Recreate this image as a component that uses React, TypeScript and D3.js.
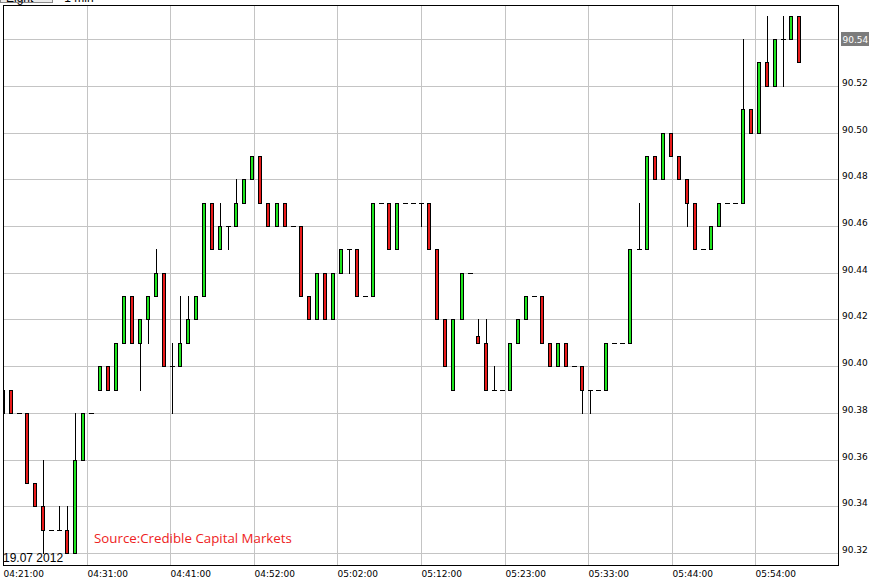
import React from 'react';
import * as d3 from 'd3';

const opens = [
  90.38, 90.39, 90.38, 90.38, 90.35, 90.34, 90.33, 90.33, 90.33, 90.32,
  90.36, 90.38, 90.39, 90.40, 90.39, 90.41, 90.43, 90.41, 90.42, 90.43,
  90.44, 90.40, 90.40, 90.41, 90.42, 90.43, 90.47, 90.45, 90.46, 90.46,
  90.47, 90.48, 90.49, 90.47, 90.46, 90.47, 90.46, 90.46, 90.43, 90.42,
  90.44, 90.42, 90.44, 90.45, 90.45, 90.43, 90.43, 90.47, 90.47, 90.45,
  90.47, 90.47, 90.47, 90.47, 90.45, 90.42, 90.39, 90.42, 90.44, 90.413,
  90.41, 90.39, 90.39, 90.39, 90.41, 90.42, 90.43, 90.43, 90.41, 90.40,
  90.41, 90.40, 90.40, 90.39, 90.39, 90.39, 90.41, 90.41, 90.41, 90.45,
  90.45, 90.49, 90.48, 90.50, 90.49, 90.48, 90.47, 90.45, 90.45, 90.46,
  90.47, 90.47, 90.47, 90.51, 90.50, 90.53, 90.52, 90.54, 90.54, 90.55,
];
const highs = [
  90.39, 90.39, 90.38, 90.38, 90.35, 90.36, 90.33, 90.34, 90.34, 90.38,
  90.38, 90.38, 90.40, 90.40, 90.41, 90.43, 90.43, 90.42, 90.43, 90.45,
  90.44, 90.41, 90.43, 90.43, 90.43, 90.47, 90.47, 90.47, 90.46, 90.48,
  90.48, 90.49, 90.49, 90.47, 90.47, 90.47, 90.46, 90.46, 90.43, 90.44,
  90.44, 90.44, 90.45, 90.45, 90.45, 90.43, 90.47, 90.47, 90.47, 90.47,
  90.47, 90.47, 90.47, 90.47, 90.45, 90.42, 90.42, 90.44, 90.44, 90.42,
  90.42, 90.40, 90.39, 90.41, 90.42, 90.43, 90.43, 90.43, 90.41, 90.41,
  90.41, 90.40, 90.40, 90.39, 90.39, 90.41, 90.41, 90.41, 90.45, 90.47,
  90.49, 90.49, 90.50, 90.50, 90.49, 90.48, 90.47, 90.45, 90.46, 90.47,
  90.47, 90.47, 90.54, 90.51, 90.53, 90.55, 90.54, 90.55, 90.55, 90.55,
];
const lows = [
  90.38, 90.38, 90.38, 90.35, 90.34, 90.32, 90.33, 90.33, 90.32, 90.32,
  90.36, 90.38, 90.39, 90.39, 90.39, 90.41, 90.41, 90.39, 90.41, 90.43,
  90.40, 90.38, 90.40, 90.41, 90.42, 90.43, 90.45, 90.45, 90.45, 90.46,
  90.47, 90.48, 90.47, 90.46, 90.46, 90.46, 90.46, 90.43, 90.42, 90.42,
  90.42, 90.42, 90.44, 90.44, 90.43, 90.43, 90.43, 90.47, 90.45, 90.45,
  90.47, 90.47, 90.46, 90.45, 90.42, 90.40, 90.39, 90.42, 90.44, 90.41,
  90.39, 90.39, 90.39, 90.39, 90.41, 90.42, 90.43, 90.41, 90.40, 90.40,
  90.40, 90.40, 90.38, 90.38, 90.39, 90.39, 90.41, 90.41, 90.41, 90.45,
  90.45, 90.48, 90.48, 90.49, 90.48, 90.46, 90.45, 90.45, 90.45, 90.46,
  90.47, 90.47, 90.47, 90.50, 90.50, 90.52, 90.52, 90.52, 90.54, 90.53,
];
const closes = [
  90.39, 90.38, 90.38, 90.35, 90.34, 90.33, 90.33, 90.33, 90.32, 90.36,
  90.38, 90.38, 90.40, 90.39, 90.41, 90.43, 90.41, 90.42, 90.43, 90.44,
  90.40, 90.40, 90.41, 90.42, 90.43, 90.47, 90.45, 90.46, 90.46, 90.47,
  90.48, 90.49, 90.47, 90.46, 90.47, 90.46, 90.46, 90.43, 90.42, 90.44,
  90.42, 90.44, 90.45, 90.45, 90.43, 90.43, 90.47, 90.47, 90.45, 90.47,
  90.47, 90.47, 90.47, 90.45, 90.42, 90.40, 90.42, 90.44, 90.44, 90.41,
  90.39, 90.39, 90.39, 90.41, 90.42, 90.43, 90.43, 90.41, 90.40, 90.41,
  90.40, 90.40, 90.39, 90.39, 90.39, 90.41, 90.41, 90.41, 90.45, 90.45,
  90.49, 90.48, 90.50, 90.49, 90.48, 90.47, 90.45, 90.45, 90.46, 90.47,
  90.47, 90.47, 90.51, 90.50, 90.53, 90.52, 90.54, 90.54, 90.55, 90.53,
];

const xTickLabels = [
  '04:21:00', '04:31:00', '04:41:00', '04:52:00', '05:02:00',
  '05:12:00', '05:23:00', '05:33:00', '05:44:00', '05:54:00',
];
const yTicks = [90.32, 90.34, 90.36, 90.38, 90.40, 90.42, 90.44, 90.46, 90.48, 90.50, 90.52, 90.54];
const currentPrice = 90.54;
const dateLabel = '19.07 2012';
const sourceLabel = 'Source:Credible Capital Markets';
const periodButton = 'Eight';
const periodLabel = '- 1 min';

const W = 880;
const H = 581;
const plotLeft = 3;
const plotRight = 838;
const plotTop = 5;
const plotBottom = 565;

const GREEN = '#1fe41f';
const RED = '#e81b1b';
const GRID = '#c4c4c4';
const AXIS_FONT = '"DejaVu Sans", sans-serif';

export default function App() {
  const x = d3.scaleLinear().domain([0, 103.8]).range([plotLeft, plotRight]);
  const y = d3.scaleLinear().domain([90.3149, 90.5546]).range([plotBottom, plotTop]);
  const py = (v: number) => Math.round(y(v));

  const gridStep = (plotRight - plotLeft + 1) / xTickLabels.length;
  const vGrid = xTickLabels.map((_, k) => Math.round(plotLeft + k * gridStep));

  const candles = opens.map((o, i) => ({ o, h: highs[i], l: lows[i], c: closes[i], i }));

  return (
    <svg
      width={W}
      height={H}
      style={{ position: 'absolute', left: 0, top: 0, background: '#fff' }}
      shapeRendering="crispEdges"
    >
      <defs>
        <clipPath id="plotClip">
          <rect x={plotLeft + 1} y={plotTop + 1} width={plotRight - plotLeft - 1} height={plotBottom - plotTop - 1} />
        </clipPath>
      </defs>
      <rect x={0} y={0} width={W} height={H} fill="#fff" />

      {/* header (cut off at top) */}
      <g>
        <rect x={0.5} y={-14.5} width={52} height={17} fill="#ececec" stroke="#8a8a8a" />
        <text x={6} y={2} fontFamily='"Liberation Sans", Arial, sans-serif' fontSize={12} fill="#000">{periodButton}</text>
        <text x={57} y={2} fontFamily='"Liberation Sans", Arial, sans-serif' fontSize={12} fill="#000">{periodLabel}</text>
      </g>

      {/* grid */}
      <g stroke={GRID} strokeWidth={1}>
        {yTicks.map((t) => (
          <line key={'h' + t} x1={plotLeft} x2={plotRight} y1={py(t) + 0.5} y2={py(t) + 0.5} />
        ))}
        {vGrid.slice(1).map((gx, k) => (
          <line key={'v' + k} x1={gx + 0.5} x2={gx + 0.5} y1={plotTop} y2={plotBottom} />
        ))}
      </g>

      {/* candles */}
      <g clipPath="url(#plotClip)">
        {candles.map((d) => {
          const L = Math.round(x(d.i) - 2);
          const top = py(Math.max(d.o, d.c));
          const bot = py(Math.min(d.o, d.c));
          const hi = py(d.h);
          const lo = py(d.l);
          const doji = top === bot;
          const up = d.c > d.o;
          return (
            <g key={d.i}>
              {hi !== lo && (
                <line x1={L + 2.5} x2={L + 2.5} y1={hi} y2={lo + 1} stroke="#000" strokeWidth={1} />
              )}
              {doji ? (
                <line x1={L} x2={L + 5} y1={top + 0.5} y2={top + 0.5} stroke="#000" strokeWidth={1} />
              ) : (
                <rect
                  x={L + 0.5}
                  y={top + 0.5}
                  width={3}
                  height={bot - top}
                  fill={up ? GREEN : RED}
                  stroke="#000"
                  strokeWidth={1}
                />
              )}
            </g>
          );
        })}
      </g>

      {/* frame */}
      <rect
        x={plotLeft + 0.5}
        y={plotTop + 0.5}
        width={plotRight - plotLeft}
        height={plotBottom - plotTop}
        fill="none"
        stroke="#000"
        strokeWidth={1}
      />

      {/* source & date */}
      <text x={94} y={543} fontFamily='"Open Sans", sans-serif' fontSize={13.3} fill="#ee2222" shapeRendering="auto">
        {sourceLabel}
      </text>
      <text x={3} y={562} fontFamily='"Liberation Sans", Arial, sans-serif' fontSize={12} fill="#000">
        {dateLabel}
      </text>

      {/* x labels */}
      <g fontFamily={AXIS_FONT} fontSize={9} fill="#000">
        {xTickLabels.map((lab, k) => (
          <text key={lab} x={vGrid[k] + 0.5} y={577}>
            {lab}
          </text>
        ))}
      </g>

      {/* y labels */}
      <g fontFamily={AXIS_FONT} fontSize={9} fill="#000">
        {yTicks.map((t) => (
          <text key={'yl' + t} x={842} y={py(t) - 0.5}>
            {t.toFixed(2)}
          </text>
        ))}
      </g>

      {/* current price marker */}
      <g>
        <rect x={841} y={py(currentPrice) - 7} width={28} height={14} fill="#7c7c7c" />
        <text x={842.5} y={py(currentPrice) + 4} fontFamily={AXIS_FONT} fontSize={9} fill="#fff">
          {currentPrice.toFixed(2)}
        </text>
      </g>
    </svg>
  );
}
